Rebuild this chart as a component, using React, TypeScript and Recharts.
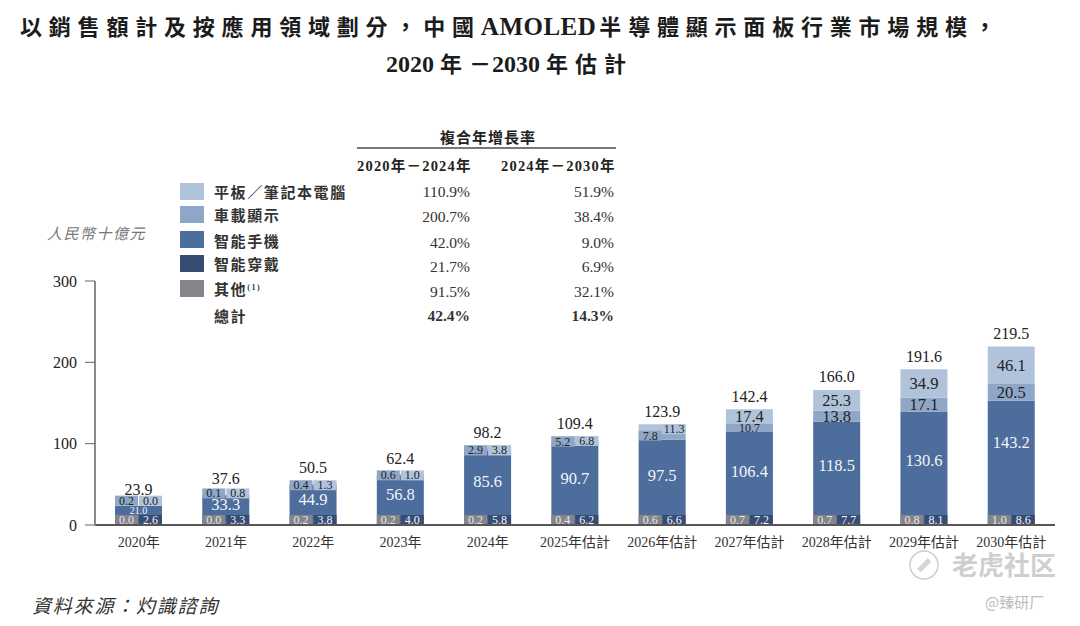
import React from "react";
import { Bar, ComposedChart, LabelList, XAxis, YAxis } from "recharts";

const categories = ["2020年","2021年","2022年","2023年","2024年","2025年估計","2026年估計","2027年估計","2028年估計","2029年估計","2030年估計"];
const otherValues = [0.0,0.0,0.2,0.2,0.2,0.4,0.6,0.7,0.7,0.8,1.0];
const wearableValues = [2.6,3.3,3.8,4.0,5.8,6.2,6.6,7.2,7.7,8.1,8.6];
const phoneValues = [21.0,33.3,44.9,56.8,85.6,90.7,97.5,106.4,118.5,130.6,143.2];
const autoValues = [0.2,0.1,0.4,0.6,2.9,5.2,7.8,10.7,13.8,17.1,20.5];
const tabletValues = [0.0,0.8,1.3,1.0,3.8,6.8,11.3,17.4,25.3,34.9,46.1];
const totalValues = [23.9,37.6,50.5,62.4,98.2,109.4,123.9,142.4,166.0,191.6,219.5];
const yTicks = [0,100,200,300];

const COMMA = "\uFF0C";
const DASH = "\uFF0D";
const SLASH = "\uFF0F";
const COLON = "\uFF1A";

const legendNames = ["平板"+SLASH+"筆記本電腦","車載顯示","智能手機","智能穿戴","其他","總計"];
const cagrFirst = ["110.9%","200.7%","42.0%","21.7%","91.5%","42.4%"];
const cagrSecond = ["51.9%","38.4%","9.0%","6.9%","32.1%","14.3%"];

const COLORS = { tablet:"#b0c3da", auto:"#8fa6c7", phone:"#4d6d9c", wearable:"#364c74", other:"#85848b" };
const legendColors = [COLORS.tablet, COLORS.auto, COLORS.phone, COLORS.wearable, COLORS.other];
const legendY = [183,206,231,255,280];
const legendLabelY = [191,214,240,263,288,315];
const rowY = [192,217,243,267,292,316];

const SERIF = "'Liberation Serif','Noto Sans CJK TC',serif";

const rows = categories.map((name,i)=>({
  name, other:otherValues[i], wearable:wearableValues[i], phone:phoneValues[i],
  auto:autoValues[i], tablet:tabletValues[i], total:totalValues[i],
}));
type Row = typeof rows[number];

const CHIP = 12.3; // chip height in value units
const AUTO_LIMIT = 10;
const TABLET_LIMIT = 12;
const blueTop = (d:Row)=>d.other+d.wearable+d.phone;
const lift = (d:Row)=>Math.max(0,(45-d.total)*0.3);
const autoChip = (d:Row)=>{
  if (d.auto>=AUTO_LIMIT) return null;
  if (d.total>100) return [blueTop(d)-1, blueTop(d)-1+CHIP];
  const c = blueTop(d)+lift(d);
  return [c-CHIP/2,c+CHIP/2];
};
const tabletChip = (d:Row)=>{
  if (d.tablet>=TABLET_LIMIT) return null;
  if (d.total>100) return [d.total-CHIP,d.total];
  const c = blueTop(d)+lift(d);
  return [c-CHIP/2,c+CHIP/2];
};

const centerLabel = (fill:string,size:(v:number)=>number,shift:(v:number)=>number=()=>0)=>(p:any)=>{
  if (p.value===null||p.value===undefined) return null;
  const v = Number(p.value);
  return <text x={p.x+p.width/2} y={p.y+p.height/2+shift(v)} textAnchor="middle" dominantBaseline="central"
    fill={fill} fontSize={size(v)} fontFamily={SERIF}>{v.toFixed(1)}</text>;
};
const totalLabel = (p:any)=>{
  const v = Number(p.value);
  return <text x={p.x+p.width/2} y={p.y-13-(v<70?3:0)} textAnchor="middle" dominantBaseline="central"
    fill="#222" fontSize={16} fontFamily={SERIF}>{v.toFixed(1)}</text>;
};
const chipSize = ()=>12;
const bandSize = (v:number)=>v<12?12:16.5;

const abs = (x:number,y:number,extra:React.CSSProperties={}):React.CSSProperties=>({
  position:"absolute",left:x,top:y,transform:"translateY(-50%)",whiteSpace:"nowrap",fontFamily:SERIF,color:"#222",...extra,
});
const latin = (s:string,size:number,sp=0)=><span style={{letterSpacing:sp,fontSize:size}}>{s}</span>;

export default function App(){
  return (
    <div style={{position:"absolute",left:0,top:0,width:1080,height:626,background:"#fff",overflow:"hidden"}}>
      <ComposedChart width={1080} height={626} data={rows} margin={{top:281,right:25,bottom:0,left:0}} barGap={1}>
        <XAxis dataKey="name" xAxisId="main" height={101} interval={0} tickLine={false}
          axisLine={{stroke:"#555",strokeWidth:2}} tickMargin={6}
          tick={{fontSize:14,fill:"#333",fontFamily:SERIF}} />
        <XAxis dataKey="name" xAxisId="base" hide height={0} />
        <XAxis dataKey="name" xAxisId="top" hide height={0} />
        <XAxis dataKey="name" xAxisId="sum" hide height={0} />
        <YAxis domain={[0,300]} ticks={yTicks} width={95} tickSize={10} tickMargin={8} interval={0}
          axisLine={{stroke:"#8a8a8a",strokeWidth:2}} tickLine={{stroke:"#666"}}
          tick={{fontSize:16,fill:"#222",fontFamily:SERIF}} yAxisId={0} />

        <Bar xAxisId="main" dataKey="other" stackId="s" barSize={47} fill={COLORS.phone} isAnimationActive={false} />
        <Bar xAxisId="main" dataKey="wearable" stackId="s" barSize={47} fill={COLORS.phone} isAnimationActive={false} />
        <Bar xAxisId="main" dataKey="phone" stackId="s" barSize={47} fill={COLORS.phone} isAnimationActive={false}>
          <LabelList dataKey="phone" content={centerLabel("#f2f5fa",v=>v<25?10:16.5,v=>v>140?-16:-4)} />
        </Bar>
        <Bar xAxisId="main" dataKey="auto" stackId="s" barSize={47} fill={COLORS.auto} isAnimationActive={false}>
          <LabelList dataKey={(d:Row)=>d.auto>=AUTO_LIMIT?d.auto:null} content={centerLabel("#222",bandSize)} />
        </Bar>
        <Bar xAxisId="main" dataKey="tablet" stackId="s" barSize={47} fill={COLORS.tablet} isAnimationActive={false}>
          <LabelList dataKey={(d:Row)=>d.tablet>=TABLET_LIMIT?d.tablet:null} content={centerLabel("#222",bandSize)} />
        </Bar>

        <Bar xAxisId="base" dataKey="other" barSize={23} minPointSize={10} fill={COLORS.other} isAnimationActive={false}>
          <LabelList dataKey="other" content={centerLabel("#e6e6e6",chipSize)} />
        </Bar>
        <Bar xAxisId="base" dataKey="wearable" barSize={23} minPointSize={10} fill={COLORS.wearable} isAnimationActive={false}>
          <LabelList dataKey="wearable" content={centerLabel("#f2f5fa",chipSize)} />
        </Bar>

        <Bar xAxisId="top" dataKey={autoChip} barSize={23} fill={COLORS.auto} isAnimationActive={false}>
          <LabelList dataKey={(d:Row)=>d.auto<AUTO_LIMIT?d.auto:null} content={centerLabel("#222",chipSize)} />
        </Bar>
        <Bar xAxisId="top" dataKey={tabletChip} barSize={23} fill={COLORS.tablet} isAnimationActive={false}>
          <LabelList dataKey={(d:Row)=>d.tablet<TABLET_LIMIT?d.tablet:null} content={centerLabel("#222",chipSize)} />
        </Bar>

        <Bar xAxisId="sum" dataKey="total" barSize={47} fill="none" isAnimationActive={false}>
          <LabelList dataKey="total" content={totalLabel} />
        </Bar>
      </ComposedChart>

      <div style={abs(20,25,{fontSize:22,fontWeight:700,letterSpacing:6.8,color:"#1c1c1c"})}>以銷售額計及按應用領域劃分{COMMA}中國{latin("AMOLED",25,0.5)}<span style={{marginLeft:3}}>半導體顯示面板行業市場規模{COMMA}</span></div>
      <div style={abs(386,62,{fontSize:22,fontWeight:700,letterSpacing:7,color:"#1c1c1c"})}>{latin("2020",24)}<span style={{marginLeft:6}}>年</span><span style={{letterSpacing:1}}>{DASH}</span>{latin("2030",24)}<span style={{marginLeft:6}}>年估計</span></div>

      <div style={abs(47,232,{fontSize:15,fontStyle:"italic",letterSpacing:1.5,color:"#777"})}>人民幣十億元</div>

      <div style={abs(440,136,{fontSize:15,fontWeight:700,letterSpacing:1})}>複合年增長率</div>
      <div style={{position:"absolute",left:357,top:147,width:259,height:1.5,background:"#777"}} />
      <div style={abs(357,164,{fontSize:14.5,fontWeight:700,letterSpacing:1.2})}>2020年{DASH}2024年</div>
      <div style={abs(501,164,{fontSize:14.5,fontWeight:700,letterSpacing:1.2})}>2024年{DASH}2030年</div>

      {legendNames.slice(0,5).map((_,i)=>(
        <div key={i} style={{position:"absolute",left:180,top:legendY[i],width:24,height:17,background:legendColors[i]}} />
      ))}
      {legendNames.map((n,i)=>(
        <div key={n} style={abs(214,legendLabelY[i],{fontSize:15,letterSpacing:1.6,fontWeight:700,color:"#333"})}>
          {n}{i===4?<span style={{fontSize:8,fontWeight:700,position:"relative",top:-5}}>(1)</span>:null}
        </div>
      ))}
      {cagrFirst.map((v,i)=>(
        <div key={i} style={{...abs(0,rowY[i],{fontSize:15.5,fontWeight:i===5?700:400,color:"#333"}),left:"auto",right:610}}>{v}</div>
      ))}
      {cagrSecond.map((v,i)=>(
        <div key={i} style={{...abs(0,rowY[i],{fontSize:15.5,fontWeight:i===5?700:400,color:"#333"}),left:"auto",right:466}}>{v}</div>
      ))}

      <div style={abs(32,604,{fontSize:19,fontStyle:"italic",letterSpacing:1.8,color:"#333"})}>資料來源{COLON}灼識諮詢</div>

      <svg style={{position:"absolute",left:908,top:549}} width={32} height={32}>
        <circle cx={16} cy={16} r={14} fill="none" stroke="#cfcfcf" strokeWidth={1.5} />
        <path d="M9 20 L20 9 L23 13 L13 23 Z" fill="#d4d4d4" />
      </svg>
      <div style={abs(952,563,{fontSize:26,fontWeight:700,color:"#cfcfcf",fontFamily:"'Noto Sans CJK SC',sans-serif"})}>老虎社区</div>
      <div style={abs(985,601,{fontSize:15,color:"#bbb",fontFamily:"'Noto Sans CJK SC',sans-serif"})}>@臻研厂</div>
    </div>
  );
}
